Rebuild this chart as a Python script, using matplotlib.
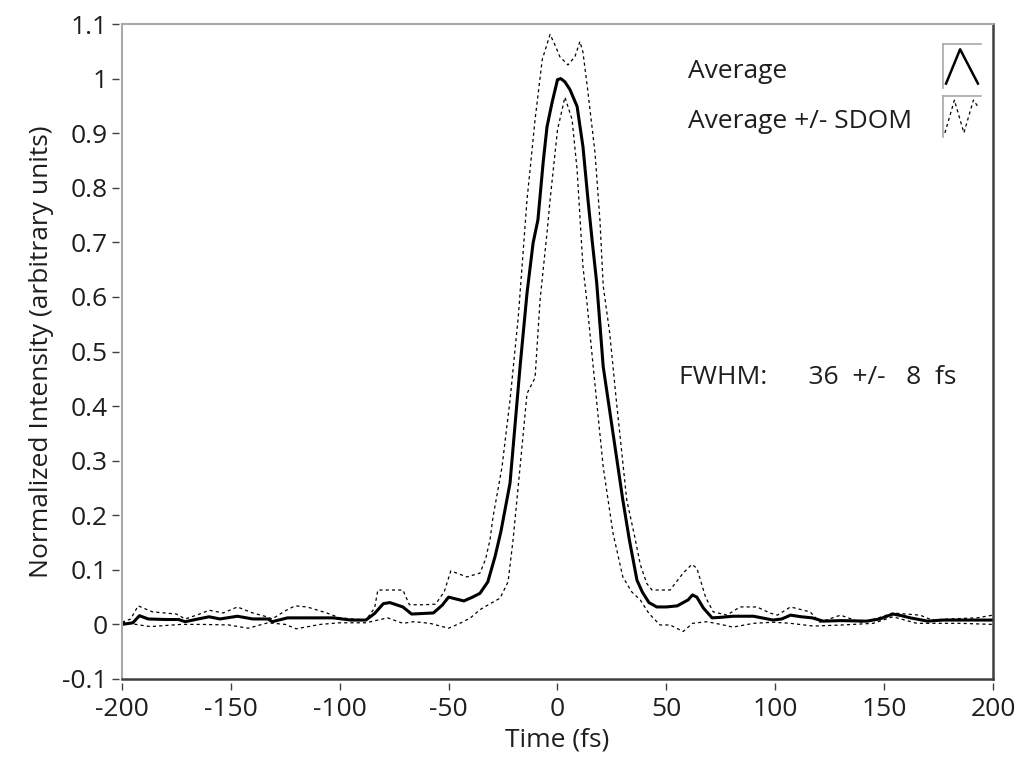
import matplotlib
matplotlib.use("Agg")
import matplotlib.pyplot as plt

plt.rcParams['font.family'] = ['Open Sans', 'DejaVu Sans']

# Average
avg_t = [-200, -195, -192, -188, -180, -174, -171, -165, -160, -155,
         -147, -140, -133, -131, -124, -115, -103, -95, -88, -84,
         -80, -77, -71, -67, -62, -57, -53, -50, -46, -43,
         -39, -35.6, -32, -28.7, -26, -21.8, -17.2, -14, -11.2, -9,
         -6.5, -4.8, -2.5, 0, 1.5, 3.4, 5.7, 9, 11.7, 14,
         16, 18, 21, 25.5, 30, 33, 36.5, 39, 42, 45.6,
         50, 55, 60, 62, 64, 67, 71, 75, 80.6, 90,
         99, 103, 107, 112, 117, 122, 130, 142, 148, 154,
         158, 162, 170, 177, 185, 192, 200]
avg_v = [0.000, 0.003, 0.016, 0.010, 0.009, 0.009, 0.005, 0.010, 0.014, 0.010,
         0.015, 0.010, 0.010, 0.005, 0.012, 0.012, 0.012, 0.008, 0.008, 0.020,
         0.038, 0.040, 0.032, 0.019, 0.020, 0.021, 0.035, 0.050, 0.046, 0.043,
         0.050, 0.057, 0.078, 0.124, 0.170, 0.259, 0.472, 0.607, 0.699, 0.741,
         0.850, 0.912, 0.956, 0.998, 1.000, 0.994, 0.980, 0.949, 0.875, 0.778,
         0.700, 0.626, 0.472, 0.350, 0.228, 0.155, 0.081, 0.059, 0.040, 0.032,
         0.032, 0.034, 0.045, 0.054, 0.050, 0.030, 0.012, 0.013, 0.015, 0.015,
         0.008, 0.010, 0.017, 0.014, 0.012, 0.006, 0.007, 0.006, 0.010, 0.019,
         0.016, 0.012, 0.006, 0.008, 0.008, 0.008, 0.008]

# Average + SDOM
up_t = [-200, -196, -192.6, -186, -175, -171, -165, -160, -153.5, -147,
        -140, -133.5, -131, -125, -120.5, -115, -106, -100, -88, -84,
        -82.5, -71, -68, -62, -56, -52, -49, -41.6, -35.6, -33,
        -31, -29.6, -25.5, -21.8, -18, -14, -12.6, -10.3, -7, -3.4,
        -1, 1.1, 4.8, 8, 10.3, 11.7, 14, 17.2, 19.5, 21,
        24, 27, 31.8, 35.5, 38, 41, 43.4, 51.7, 57.7, 61.7,
        64, 68, 71.5, 77.8, 83.8, 91.6, 97.5, 101, 107, 116,
        120.5, 130, 139, 146, 154, 160, 166.5, 172, 180, 192.6,
        200]
up_v = [0.004, 0.010, 0.034, 0.023, 0.019, 0.010, 0.018, 0.026, 0.021, 0.032,
        0.021, 0.014, 0.010, 0.025, 0.034, 0.032, 0.021, 0.012, 0.008, 0.030,
        0.063, 0.063, 0.036, 0.036, 0.037, 0.060, 0.098, 0.087, 0.094, 0.120,
        0.155, 0.197, 0.288, 0.411, 0.564, 0.778, 0.833, 0.925, 1.035, 1.081,
        1.060, 1.040, 1.025, 1.040, 1.068, 1.048, 0.975, 0.865, 0.740, 0.620,
        0.533, 0.411, 0.228, 0.160, 0.110, 0.075, 0.063, 0.063, 0.094, 0.110,
        0.103, 0.050, 0.023, 0.017, 0.032, 0.032, 0.021, 0.017, 0.032, 0.023,
        0.004, 0.017, 0.004, 0.010, 0.021, 0.019, 0.017, 0.008, 0.010, 0.012,
        0.017]

# Average - SDOM
lo_t = [-200, -192, -187, -180, -173, -163, -151, -142, -133, -125,
        -120, -109, -100, -88, -78, -71, -66, -58.6, -50, -44.8,
        -40, -35.6, -30, -26.4, -22.7, -20.4, -17.2, -14, -10.3, -8,
        -4.8, -3.4, 0, 3.4, 6.7, 9, 11.7, 13.4, 16.4, 21,
        25.5, 30, 34, 38, 42, 47, 51.7, 57.7, 62, 68.6,
        75, 80.6, 90, 99, 107, 117.5, 131, 145, 154, 165,
        175, 185, 200]
lo_v = [0.004, -0.001, -0.004, -0.002, 0.000, 0.000, -0.001, -0.007, 0.003, 0.000,
        -0.008, 0.000, 0.003, 0.003, 0.012, 0.002, 0.005, 0.002, -0.007, 0.002,
        0.012, 0.027, 0.040, 0.048, 0.078, 0.155, 0.288, 0.423, 0.452, 0.595,
        0.718, 0.778, 0.906, 0.966, 0.925, 0.833, 0.655, 0.595, 0.472, 0.288,
        0.167, 0.087, 0.060, 0.045, 0.020, -0.001, -0.001, -0.013, 0.002, 0.005,
        0.000, -0.005, 0.002, 0.004, 0.002, -0.003, -0.001, 0.002, 0.014, 0.002,
        0.002, 0.002, 0.000]

x_ticks = [-200, -150, -100, -50, 0, 50, 100, 150, 200]
y_ticks = [-0.1, 0, 0.1, 0.2, 0.3, 0.4, 0.5, 0.6, 0.7, 0.8, 0.9, 1, 1.1]
y_ticklabels = ["-0.1", "0", "0.1", "0.2", "0.3", "0.4", "0.5", "0.6", "0.7",
                "0.8", "0.9", "1", "1.1"]

W, H = 1029, 772
FS = 19
fig = plt.figure(figsize=(W / 100, H / 100), dpi=100)
ax = fig.add_axes([122 / W, 1 - 679 / H, 871 / W, 655 / H])

dash = (0, (2.5, 2.5))
ax.plot(up_t, up_v, color="black", lw=0.9, linestyle=dash)
ax.plot(lo_t, lo_v, color="black", lw=0.9, linestyle=dash)
ax.plot(avg_t, avg_v, color="black", lw=2.2)

ax.set_xlim(-200, 200)
ax.set_ylim(-0.1, 1.1)

# frame: light left/top, dark bottom/right
for side in ["left", "top"]:
    ax.spines[side].set_color("#a8a8a8")
    ax.spines[side].set_linewidth(1.5)
for side in ["bottom", "right"]:
    ax.spines[side].set_color("#404040")
    ax.spines[side].set_linewidth(1.8)
ax.tick_params(bottom=False, labelbottom=False, left=False, labelleft=False)

tick_color = "#1e1e1e"
secx = ax.secondary_xaxis(-0.006)
secx.set_xticks(x_ticks)
secx.set_xticklabels([str(v) for v in x_ticks])
secx.spines["bottom"].set_visible(False)
secx.tick_params(direction="out", length=5, width=1, color="#404040",
                 labelsize=FS, labelcolor=tick_color, pad=5)

secy = ax.secondary_yaxis(-0.004)
secy.set_yticks(y_ticks)
secy.set_yticklabels(y_ticklabels)
secy.spines["left"].set_visible(False)
secy.tick_params(direction="out", length=5, width=1, color="#404040",
                 labelsize=FS, labelcolor=tick_color, pad=3)

secx.set_xlabel("Time (fs)", fontsize=FS, color=tick_color, labelpad=4)
secy.set_ylabel("Normalized Intensity (arbitrary units)", fontsize=FS,
                color=tick_color, labelpad=6)

# legend
fig.text(688 / W, 1 - 71 / H, "Average", fontsize=FS, color=tick_color, va="center")
fig.text(688 / W, 1 - 121 / H, "Average +/- SDOM", fontsize=FS, color=tick_color, va="center")

icon1 = fig.add_axes([943 / W, 1 - 88 / H, 38 / W, 44 / H])
icon1.plot([0.08, 0.45, 0.92], [0.1, 0.88, 0.1], color="black", lw=1.8)
icon2 = fig.add_axes([943 / W, 1 - 137 / H, 38 / W, 41 / H])
icon2.plot([0.05, 0.3, 0.55, 0.8, 0.95], [0.1, 0.9, 0.1, 0.9, 0.7],
           color="black", lw=0.9, linestyle=dash)
for ic in [icon1, icon2]:
    ic.set_xlim(0, 1)
    ic.set_ylim(0, 1)
    ic.set_xticks([])
    ic.set_yticks([])
    ic.patch.set_alpha(0)
    for side in ["right", "bottom"]:
        ic.spines[side].set_visible(False)
    for side in ["left", "top"]:
        ic.spines[side].set_color("#a8a8a8")
        ic.spines[side].set_linewidth(1.2)

ax.text(0.64, 0.46, "FWHM:      36  +/-   8  fs", transform=ax.transAxes,
        fontsize=FS, color=tick_color, va="center")

fig.savefig("out.png", dpi=100)
